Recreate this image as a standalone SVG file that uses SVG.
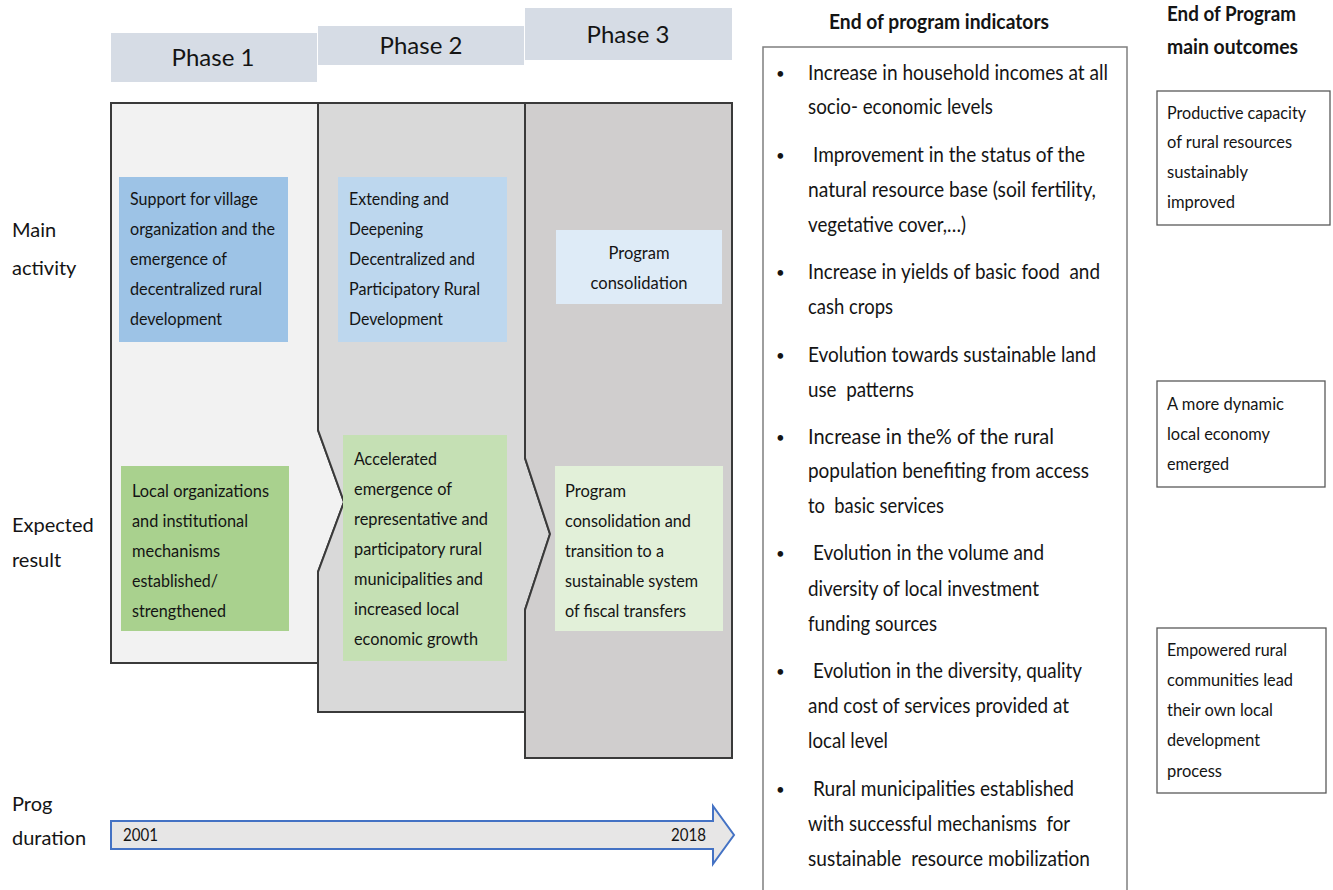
<svg xmlns="http://www.w3.org/2000/svg" width="1333" height="890" viewBox="0 0 1333 890">
<style>
text{font-family:Lato,"Liberation Sans",sans-serif;fill:#141414}
.ph{font-size:24px;text-anchor:middle}
.lbl{font-size:20px}
.bx{font-size:18px}
.ind{font-size:21px}
.ind text{white-space:pre}
.bul{font-size:15px}
.out{font-size:17px}
.ttl{font-size:20px;font-weight:bold}
.hdr{fill:#d6dce5}
.pan{stroke:#3a3a3a;stroke-width:2}
.obox{fill:#fff;stroke:#595959;stroke-width:1.3}
</style>
<rect width="1333" height="890" fill="#fff"/>
<g id="phase-headers">
<g id="phase1-header"><rect class="hdr" x="111" y="33" width="206" height="49"/><text class="ph" x="213" y="66">Phase 1</text></g>
<g id="phase2-header"><rect class="hdr" x="318" y="26" width="206" height="39"/><text class="ph" x="421" y="54">Phase 2</text></g>
<g id="phase3-header"><rect class="hdr" x="525" y="8" width="207" height="52"/><text class="ph" x="628" y="43">Phase 3</text></g>
</g>
<g id="panels">
<polygon id="phase1-panel" class="pan" fill="#f2f2f2" points="111,103 318,103 318,430 344,502 318,572 318,663 111,663"/>
<polygon id="phase2-panel" class="pan" fill="#d9d9d9" points="318,103 525,103 525,458 550,534 525,610 525,712 318,712 318,572 344,502 318,430"/>
<polygon id="phase3-panel" class="pan" fill="#d0cece" points="525,103 732,103 732,758 525,758 525,610 550,534 525,458"/>
</g>
<g id="row-labels">
<text class="lbl" x="12" y="237">Main</text>
<text class="lbl" x="12" y="275">activity</text>
<text class="lbl" x="12" y="532">Expected</text>
<text class="lbl" x="12" y="567">result</text>
<text class="lbl" x="12" y="811">Prog</text>
<text class="lbl" x="12" y="845">duration</text>
</g>
<g id="act1">
<rect x="119" y="177" width="169" height="165" fill="#9dc3e6"/>
<text class="bx" x="130" y="205" textLength="128" lengthAdjust="spacingAndGlyphs">Support for village</text>
<text class="bx" x="130" y="235" textLength="145" lengthAdjust="spacingAndGlyphs">organization and the</text>
<text class="bx" x="130" y="265" textLength="97" lengthAdjust="spacingAndGlyphs">emergence of</text>
<text class="bx" x="130" y="295" textLength="132" lengthAdjust="spacingAndGlyphs">decentralized rural</text>
<text class="bx" x="130" y="325" textLength="92" lengthAdjust="spacingAndGlyphs">development</text>
</g>
<g id="act2">
<rect x="338" y="177" width="169" height="165" fill="#bdd7ee"/>
<text class="bx" x="349" y="205" textLength="100" lengthAdjust="spacingAndGlyphs">Extending and</text>
<text class="bx" x="349" y="235" textLength="74" lengthAdjust="spacingAndGlyphs">Deepening</text>
<text class="bx" x="349" y="265" textLength="126" lengthAdjust="spacingAndGlyphs">Decentralized and</text>
<text class="bx" x="349" y="295" textLength="131" lengthAdjust="spacingAndGlyphs">Participatory Rural</text>
<text class="bx" x="349" y="325" textLength="94" lengthAdjust="spacingAndGlyphs">Development</text>
</g>
<g id="act3">
<rect x="556" y="230" width="166" height="74" fill="#deebf7"/>
<text class="bx" x="639" y="259" text-anchor="middle" textLength="61" lengthAdjust="spacingAndGlyphs">Program</text>
<text class="bx" x="639" y="289" text-anchor="middle" textLength="97" lengthAdjust="spacingAndGlyphs">consolidation</text>
</g>
<g id="res1">
<rect x="121" y="466" width="168" height="165" fill="#a9d18e"/>
<text class="bx" x="132" y="497" textLength="137" lengthAdjust="spacingAndGlyphs">Local organizations</text>
<text class="bx" x="132" y="527" textLength="116" lengthAdjust="spacingAndGlyphs">and institutional</text>
<text class="bx" x="132" y="557" textLength="88" lengthAdjust="spacingAndGlyphs">mechanisms</text>
<text class="bx" x="132" y="587" textLength="86" lengthAdjust="spacingAndGlyphs">established/</text>
<text class="bx" x="132" y="617" textLength="94" lengthAdjust="spacingAndGlyphs">strengthened</text>
</g>
<g id="res2">
<rect x="343" y="435" width="164" height="226" fill="#c5e0b4"/>
<text class="bx" x="354" y="465" textLength="83" lengthAdjust="spacingAndGlyphs">Accelerated</text>
<text class="bx" x="354" y="495" textLength="98" lengthAdjust="spacingAndGlyphs">emergence of</text>
<text class="bx" x="354" y="525" textLength="134" lengthAdjust="spacingAndGlyphs">representative and</text>
<text class="bx" x="354" y="555" textLength="128" lengthAdjust="spacingAndGlyphs">participatory rural</text>
<text class="bx" x="354" y="585" textLength="129" lengthAdjust="spacingAndGlyphs">municipalities and</text>
<text class="bx" x="354" y="615" textLength="105" lengthAdjust="spacingAndGlyphs">increased local</text>
<text class="bx" x="354" y="645" textLength="124" lengthAdjust="spacingAndGlyphs">economic growth</text>
</g>
<g id="res3">
<rect x="555" y="466" width="168" height="165" fill="#e2f0d9"/>
<text class="bx" x="565" y="497" textLength="61" lengthAdjust="spacingAndGlyphs">Program</text>
<text class="bx" x="565" y="527" textLength="126" lengthAdjust="spacingAndGlyphs">consolidation and</text>
<text class="bx" x="565" y="557" textLength="99" lengthAdjust="spacingAndGlyphs">transition to a</text>
<text class="bx" x="565" y="587" textLength="133" lengthAdjust="spacingAndGlyphs">sustainable system</text>
<text class="bx" x="565" y="617" textLength="121" lengthAdjust="spacingAndGlyphs">of fiscal transfers</text>
</g>
<g id="duration-arrow">
<polygon points="111,821 713,821 713,806 734,835 713,864 713,849 111,849" fill="#e7e6e6" stroke="#4472c4" stroke-width="2"/>
<text class="bx" x="123" y="841" textLength="35" lengthAdjust="spacingAndGlyphs">2001</text>
<text class="bx" x="671" y="841" textLength="35" lengthAdjust="spacingAndGlyphs">2018</text>
</g>
<g id="indicators">
<text class="ttl" x="829" y="29" textLength="220" lengthAdjust="spacingAndGlyphs">End of program indicators</text>
<rect x="763" y="47" width="364" height="860" fill="none" stroke="#7f7f7f" stroke-width="1.5"/>
<g class="bul">
<text x="776" y="79">•</text>
<text x="776" y="161">•</text>
<text x="776" y="278">•</text>
<text x="776" y="361">•</text>
<text x="776" y="443">•</text>
<text x="776" y="559">•</text>
<text x="776" y="677">•</text>
<text x="776" y="795">•</text>
</g>
<g class="ind">
<text x="808" y="80" textLength="300" lengthAdjust="spacingAndGlyphs">Increase in household incomes at all</text>
<text x="808" y="114" textLength="185" lengthAdjust="spacingAndGlyphs">socio- economic levels</text>
<text x="813" y="162" textLength="272" lengthAdjust="spacingAndGlyphs">Improvement in the status of the</text>
<text x="808" y="197" textLength="288" lengthAdjust="spacingAndGlyphs">natural resource base (soil fertility,</text>
<text x="808" y="232" textLength="158" lengthAdjust="spacingAndGlyphs">vegetative cover,…)</text>
<text x="808" y="279" textLength="292" lengthAdjust="spacingAndGlyphs" xml:space="preserve">Increase in yields of basic food  and</text>
<text x="808" y="314" textLength="85" lengthAdjust="spacingAndGlyphs">cash crops</text>
<text x="808" y="362" textLength="288" lengthAdjust="spacingAndGlyphs">Evolution towards sustainable land</text>
<text x="808" y="397" textLength="106" lengthAdjust="spacingAndGlyphs" xml:space="preserve">use  patterns</text>
<text x="808" y="444" textLength="246" lengthAdjust="spacingAndGlyphs">Increase in the% of the rural</text>
<text x="808" y="478" textLength="281" lengthAdjust="spacingAndGlyphs">population benefiting from access</text>
<text x="808" y="513" textLength="136" lengthAdjust="spacingAndGlyphs" xml:space="preserve">to  basic services</text>
<text x="813" y="560" textLength="231" lengthAdjust="spacingAndGlyphs">Evolution in the volume and</text>
<text x="808" y="596" textLength="231" lengthAdjust="spacingAndGlyphs">diversity of local investment</text>
<text x="808" y="631" textLength="129" lengthAdjust="spacingAndGlyphs">funding sources</text>
<text x="813" y="678" textLength="269" lengthAdjust="spacingAndGlyphs">Evolution in the diversity, quality</text>
<text x="808" y="713" textLength="261" lengthAdjust="spacingAndGlyphs">and cost of services provided at</text>
<text x="808" y="748" textLength="80" lengthAdjust="spacingAndGlyphs">local level</text>
<text x="813" y="796" textLength="261" lengthAdjust="spacingAndGlyphs">Rural municipalities established</text>
<text x="808" y="831" textLength="262" lengthAdjust="spacingAndGlyphs" xml:space="preserve">with successful mechanisms  for</text>
<text x="808" y="866" textLength="282" lengthAdjust="spacingAndGlyphs" xml:space="preserve">sustainable  resource mobilization</text>
</g>
</g>
<g id="outcomes-title">
<text class="ttl" x="1167" y="21" textLength="129" lengthAdjust="spacingAndGlyphs">End of Program</text>
<text class="ttl" x="1167" y="54" textLength="131" lengthAdjust="spacingAndGlyphs">main outcomes</text>
</g>
<g id="outcome1">
<rect class="obox" x="1157" y="91" width="173" height="134"/>
<text class="out" x="1167" y="119" textLength="139" lengthAdjust="spacingAndGlyphs">Productive capacity</text>
<text class="out" x="1167" y="148" textLength="125" lengthAdjust="spacingAndGlyphs">of rural resources</text>
<text class="out" x="1167" y="178" textLength="81" lengthAdjust="spacingAndGlyphs">sustainably</text>
<text class="out" x="1167" y="208" textLength="68" lengthAdjust="spacingAndGlyphs">improved</text>
</g>
<g id="outcome2">
<rect class="obox" x="1157" y="381" width="168" height="106"/>
<text class="out" x="1167" y="410" textLength="117" lengthAdjust="spacingAndGlyphs">A more dynamic</text>
<text class="out" x="1167" y="440" textLength="103" lengthAdjust="spacingAndGlyphs">local economy</text>
<text class="out" x="1167" y="470" textLength="62" lengthAdjust="spacingAndGlyphs">emerged</text>
</g>
<g id="outcome3">
<rect class="obox" x="1157" y="628" width="169" height="165"/>
<text class="out" x="1167" y="656" textLength="120" lengthAdjust="spacingAndGlyphs">Empowered rural</text>
<text class="out" x="1167" y="686" textLength="126" lengthAdjust="spacingAndGlyphs">communities lead</text>
<text class="out" x="1167" y="716" textLength="106" lengthAdjust="spacingAndGlyphs">their own local</text>
<text class="out" x="1167" y="746" textLength="93" lengthAdjust="spacingAndGlyphs">development</text>
<text class="out" x="1167" y="777" textLength="55" lengthAdjust="spacingAndGlyphs">process</text>
</g>
</svg>
